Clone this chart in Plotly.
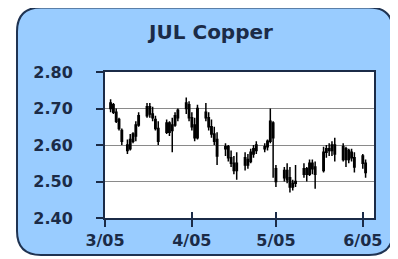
import plotly.graph_objects as go

# ---- data ----
dates = [
    "2005-03-03", "2005-03-04", "2005-03-05", "2005-03-06", "2005-03-07",
    "2005-03-09", "2005-03-10", "2005-03-11", "2005-03-12", "2005-03-13",
    "2005-03-16", "2005-03-17", "2005-03-18", "2005-03-19", "2005-03-20",
    "2005-03-23", "2005-03-24", "2005-03-25", "2005-03-26", "2005-03-27",
    "2005-03-30", "2005-03-31", "2005-04-01", "2005-04-02", "2005-04-03",
    "2005-04-06", "2005-04-07", "2005-04-08", "2005-04-09", "2005-04-10",
    "2005-04-13", "2005-04-14", "2005-04-15", "2005-04-16", "2005-04-17",
    "2005-04-20", "2005-04-21", "2005-04-22", "2005-04-23", "2005-04-24",
    "2005-04-27", "2005-04-28", "2005-04-29", "2005-04-30", "2005-05-01",
    "2005-05-04", "2005-05-05", "2005-05-06", "2005-05-07", "2005-05-08",
    "2005-05-11", "2005-05-12", "2005-05-13", "2005-05-14", "2005-05-15",
    "2005-05-18", "2005-05-19", "2005-05-20", "2005-05-21", "2005-05-22",
    "2005-05-25", "2005-05-26", "2005-05-27", "2005-05-28", "2005-05-29",
    "2005-06-01", "2005-06-02",
]
open_ = [
    2.700, 2.710, 2.690, 2.670, 2.640,
    2.600, 2.590, 2.610, 2.625, 2.655,
    2.680, 2.705, 2.685, 2.670, 2.645,
    2.635, 2.660, 2.640, 2.655, 2.675,
    2.700, 2.710, 2.675, 2.655, 2.620,
    2.690, 2.675, 2.650, 2.630, 2.615,
    2.590, 2.595, 2.565, 2.550, 2.530,
    2.545, 2.560, 2.555, 2.575, 2.585,
    2.590, 2.595, 2.610, 2.660, 2.535,
    2.510, 2.530, 2.510, 2.485, 2.495,
    2.520, 2.535, 2.520, 2.550, 2.540,
    2.530, 2.580, 2.590, 2.585, 2.600,
    2.560, 2.590, 2.560, 2.580, 2.565,
    2.570, 2.550,
]
high = [
    2.725, 2.715, 2.700, 2.675, 2.645,
    2.615, 2.630, 2.635, 2.665, 2.690,
    2.715, 2.715, 2.705, 2.680, 2.665,
    2.670, 2.665, 2.675, 2.690, 2.700,
    2.730, 2.720, 2.690, 2.675, 2.710,
    2.715, 2.690, 2.670, 2.650, 2.635,
    2.605, 2.600, 2.585, 2.570, 2.580,
    2.580, 2.575, 2.590, 2.600, 2.610,
    2.605, 2.615, 2.700, 2.665, 2.545,
    2.540, 2.550, 2.540, 2.505, 2.545,
    2.550, 2.540, 2.560, 2.560, 2.555,
    2.595, 2.600, 2.605, 2.610, 2.620,
    2.605, 2.595, 2.590, 2.590, 2.580,
    2.575, 2.560,
]
low = [
    2.690, 2.685, 2.660, 2.640, 2.600,
    2.575, 2.585, 2.605, 2.610, 2.650,
    2.675, 2.675, 2.665, 2.640, 2.600,
    2.630, 2.625, 2.580, 2.650, 2.665,
    2.685, 2.665, 2.640, 2.610, 2.615,
    2.665, 2.640, 2.620, 2.600, 2.545,
    2.570, 2.555, 2.540, 2.520, 2.505,
    2.530, 2.535, 2.550, 2.565, 2.575,
    2.580, 2.585, 2.605, 2.510, 2.485,
    2.500, 2.495, 2.470, 2.475, 2.485,
    2.510, 2.500, 2.515, 2.520, 2.480,
    2.525, 2.565, 2.570, 2.570, 2.555,
    2.555, 2.540, 2.550, 2.555, 2.525,
    2.535, 2.510,
]
close = [
    2.715, 2.690, 2.665, 2.645, 2.610,
    2.585, 2.615, 2.630, 2.655, 2.680,
    2.705, 2.685, 2.675, 2.645, 2.610,
    2.660, 2.635, 2.655, 2.680, 2.695,
    2.715, 2.675, 2.650, 2.620, 2.700,
    2.675, 2.650, 2.630, 2.610, 2.570,
    2.595, 2.565, 2.550, 2.530, 2.550,
    2.565, 2.545, 2.580, 2.590, 2.600,
    2.595, 2.610, 2.665, 2.620, 2.500,
    2.530, 2.505, 2.485, 2.495, 2.500,
    2.535, 2.520, 2.550, 2.535, 2.520,
    2.580, 2.590, 2.585, 2.600, 2.575,
    2.595, 2.560, 2.585, 2.565, 2.540,
    2.550, 2.525,
]

title_text = "JUL Copper"
x_tickvals = ["2005-03-01", "2005-04-01", "2005-05-01", "2005-06-01"]
x_ticktext = ["3/05", "4/05", "5/05", "6/05"]
y_tickvals = [2.40, 2.50, 2.60, 2.70, 2.80]
y_ticktext = ["2.40", "2.50", "2.60", "2.70", "2.80"]

# ---- styling ----
# The page body has an 8px default margin, so the figure is drawn 8px smaller
# and all reference pixel positions are shifted by that offset.
OFF = 8
W, H = 398 - OFF, 259 - OFF
navy = "#1b2b47"
panel_fill = "#99ccff"
panel_line = "#1f3352"

def px_x(v):
    return (v - OFF) / W

def px_y(v):
    return 1 - (v - OFF) / H

# plot-area placement (reference pixels)
pl, pr, pt, pb = 105, 374, 72, 218
# panel placement (reference pixels)
ql, qr, qt, qb, rad = 17, 393, 7.5, 255, 24

x0, x1 = px_x(ql), px_x(qr)
y0, y1 = px_y(qb), px_y(qt)
rx, ry = rad / W, rad / H
panel_path = (
    f"M {x0+rx},{y1} L {x1-rx},{y1} Q {x1},{y1} {x1},{y1-ry} "
    f"L {x1},{y0+ry} Q {x1},{y0} {x1-rx},{y0} "
    f"L {x0+rx},{y0} Q {x0},{y0} {x0},{y0+ry} "
    f"L {x0},{y1-ry} Q {x0},{y1} {x0+rx},{y1} Z"
)

fig = go.Figure()
fig.add_trace(go.Candlestick(
    x=dates, open=open_, high=high, low=low, close=close,
    increasing=dict(line=dict(color="black", width=1.5), fillcolor="black"),
    decreasing=dict(line=dict(color="black", width=1.5), fillcolor="black"),
    whiskerwidth=0,
    showlegend=False,
    hoverinfo="skip",
))
# invisible helper trace for the overlay axis carrying the inner tick marks
fig.add_trace(go.Scatter(x=[x_tickvals[0]], y=[2.4], xaxis="x2", yaxis="y",
                         mode="markers", marker=dict(opacity=0),
                         showlegend=False, hoverinfo="skip"))

axis_font = dict(family="DejaVu Sans", size=16, color=navy, weight="bold")

fig.update_layout(
    template="none",
    width=W, height=H,
    autosize=False,
    margin=dict(l=0, r=0, t=0, b=0, pad=0, autoexpand=False),
    paper_bgcolor="white",
    plot_bgcolor="white",
    showlegend=False,
    title=dict(
        text=title_text, x=px_x(211), y=px_y(32), xref="paper", yref="paper",
        xanchor="center", yanchor="middle", automargin=False,
        font=dict(family="DejaVu Sans", size=20, color=navy, weight="bold"),
    ),
    xaxis=dict(
        domain=[px_x(pl), px_x(pr)],
        type="date", automargin=False,
        range=["2005-03-01", "2005-06-05"],
        tickmode="array", tickvals=x_tickvals, ticktext=x_ticktext,
        ticks="outside", ticklen=7, tickwidth=2, tickcolor=navy,
        tickfont=axis_font,
        showgrid=False, zeroline=False,
        showline=True, linecolor=navy, linewidth=2, mirror=True,
        rangeslider=dict(visible=False),
        fixedrange=True,
    ),
    xaxis2=dict(
        overlaying="x", matches="x", anchor="y",
        type="date", automargin=False,
        range=["2005-03-01", "2005-06-05"],
        tickmode="array", tickvals=x_tickvals[1:],
        ticks="inside", ticklen=6, tickwidth=2, tickcolor=navy,
        showticklabels=False, showgrid=False, zeroline=False, showline=False,
        side="bottom",
    ),
    yaxis=dict(
        domain=[px_y(pb), px_y(pt)],
        range=[2.40, 2.80], automargin=False,
        tickmode="array", tickvals=y_tickvals, ticktext=y_ticktext,
        ticks="outside", ticklen=7, tickwidth=2, tickcolor=navy,
        ticklabelstandoff=20,
        tickfont=axis_font,
        showgrid=True, gridcolor="#8a8a8a", gridwidth=1,
        zeroline=False,
        showline=True, linecolor=navy, linewidth=2, mirror=True,
        fixedrange=True,
    ),
    shapes=[
        dict(type="path", path=panel_path, xref="paper", yref="paper",
             fillcolor=panel_fill, line=dict(color=panel_line, width=2),
             layer="below"),
        dict(type="rect", xref="paper", yref="paper",
             x0=px_x(pl), x1=px_x(pr), y0=px_y(pb), y1=px_y(pt),
             fillcolor="white", line=dict(width=0), layer="below"),
    ],
)

fig.write_html("out.html")
